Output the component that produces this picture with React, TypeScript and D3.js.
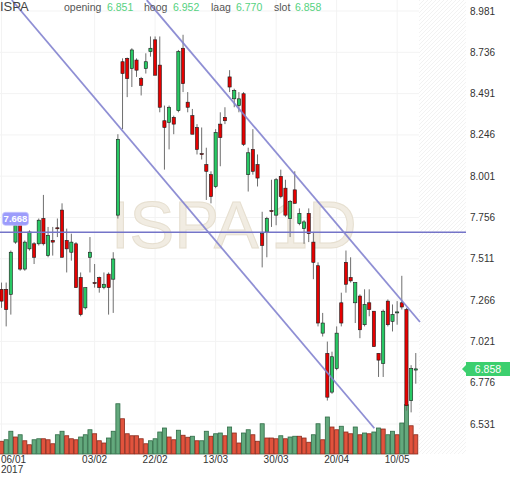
import React from "react";
import * as d3 from "d3";

// OHLC per trading day, 06/01/2017 .. 16/05/2017
const opens = [7.33, 7.33, 7.30, 7.61, 7.74, 7.45, 7.57, 7.60, 7.60, 7.75,
  7.53, 7.62, 7.695, 7.80, 7.62, 7.55, 7.60, 7.40, 7.22, 7.52,
  7.37, 7.40, 7.34, 7.42, 7.39, 7.77, 8.68, 8.70, 8.64, 8.69,
  8.58, 8.64, 8.74, 8.81, 8.66, 8.33, 8.32, 8.35, 8.39, 8.76,
  8.44, 8.36, 8.29, 8.135, 8.07, 8.01, 7.94, 8.31, 8.35, 8.59,
  8.46, 8.42, 8.49, 8.01, 8.16, 8.07, 7.66, 7.67, 7.797, 7.77,
  8.00, 7.93, 7.75, 7.92, 7.72, 7.69, 7.78, 7.61, 7.47, 7.07,
  6.95, 6.72, 6.86, 7.25, 7.49, 7.40, 7.25, 7.29, 7.12, 7.25,
  7.20, 6.95, 6.89, 7.26, 7.14, 7.19, 7.25, 7.21, 6.67, 6.851];
const highs = [7.37, 7.37, 7.56, 7.75, 7.77, 7.62, 7.68, 7.61, 7.75, 7.89,
  7.70, 7.70, 7.75, 7.84, 7.69, 7.66, 7.61, 7.43, 7.34, 7.64,
  7.48, 7.405, 7.43, 7.43, 7.55, 8.25, 8.70, 8.705, 8.76, 8.70,
  8.59, 8.73, 8.83, 8.83, 8.83, 8.42, 8.42, 8.36, 8.75, 8.84,
  8.50, 8.40, 8.31, 8.29, 8.17, 8.03, 8.28, 8.38, 8.41, 8.63,
  8.52, 8.50, 8.50, 8.17, 8.28, 8.13, 7.79, 7.76, 7.98, 7.99,
  8.04, 7.98, 7.86, 8.03, 7.81, 7.74, 7.81, 7.67, 7.49, 7.19,
  7.02, 6.96, 7.11, 7.31, 7.56, 7.52, 7.37, 7.30, 7.33, 7.33,
  7.20, 6.95, 7.21, 7.27, 7.24, 7.26, 7.41, 7.22, 6.88, 6.952];
const lows = [7.22, 7.11, 7.18, 7.60, 7.44, 7.44, 7.56, 7.48, 7.59, 7.59,
  7.52, 7.53, 7.64, 7.52, 7.43, 7.50, 7.34, 7.17, 7.21, 7.43,
  7.34, 7.31, 7.33, 7.18, 7.19, 7.75, 8.28, 8.47, 8.53, 8.59,
  8.48, 8.61, 8.71, 8.60, 8.38, 8.04, 8.16, 8.25, 8.38, 8.50,
  8.38, 8.25, 8.13, 8.10, 7.86, 7.84, 7.93, 8.06, 8.31, 8.50,
  8.41, 8.38, 8.18, 7.91, 8.01, 7.94, 7.46, 7.52, 7.70, 7.71,
  7.87, 7.76, 7.64, 7.84, 7.71, 7.60, 7.61, 7.39, 7.11, 7.05,
  6.67, 6.71, 6.85, 7.11, 7.31, 7.37, 7.13, 7.04, 7.11, 7.17,
  6.99, 6.81, 6.81, 7.11, 7.08, 7.12, 7.21, 6.61, 6.60, 6.770];
const closes = [7.26, 7.21, 7.55, 7.71, 7.45, 7.61, 7.67, 7.52, 7.74, 7.60,
  7.65, 7.61, 7.69, 7.52, 7.57, 7.61, 7.34, 7.18, 7.34, 7.55,
  7.365, 7.34, 7.36, 7.34, 7.51, 8.22, 8.61, 8.58, 8.75, 8.63,
  8.54, 8.68, 8.76, 8.60, 8.41, 8.29, 8.41, 8.31, 8.74, 8.55,
  8.41, 8.25, 8.16, 8.13, 8.03, 7.88, 8.26, 8.23, 8.33, 8.53,
  8.51, 8.46, 8.19, 8.14, 8.03, 7.99, 7.59, 7.75, 7.795, 7.98,
  7.88, 7.77, 7.85, 7.84, 7.78, 7.73, 7.66, 7.49, 7.13, 7.13,
  6.69, 6.93, 7.07, 7.13, 7.36, 7.38, 7.37, 7.09, 7.24, 7.21,
  6.99, 6.91, 7.20, 7.12, 7.18, 7.196, 7.225, 6.64, 6.86, 6.858];
const volumes = [51, 57, 91, 68, 77, 53, 37, 57, 61, 61,
  57, 41, 77, 91, 73, 61, 57, 68, 77, 97,
  81, 53, 44, 64, 91, 201, 141, 81, 73, 73,
  61, 41, 53, 61, 88, 104, 68, 57, 95, 75,
  67, 71, 53, 53, 91, 71, 81, 84, 73, 108,
  84, 44, 84, 97, 77, 51, 121, 64, 64, 61,
  73, 61, 68, 71, 71, 64, 47, 77, 121, 57,
  148, 108, 97, 111, 88, 81, 108, 77, 84, 81,
  88, 104, 100, 77, 91, 77, 124, 197, 113, 77];
const volumeDir = ("rggrgrrggr" + "rrggrrrggg" + "rrrgggrrrr" + "rrggggrrgr" + "rgrggrggrg" +
  "rrggrrgrrr" + "grggrrrggr" + "grrgrrgrgr" + "ggrggrggrr").split("");

const priceTicks = [8.981, 8.736, 8.491, 8.246, 8.001, 7.756, 7.511, 7.266, 7.021, 6.776, 6.531];
const dateTickIndex = [0, 20, 33, 46, 59, 72, 85];
const dateTickLabels = ["06/01", "03/02", "22/02", "13/03", "30/03", "20/04", "10/05"];
const headerNames = ["opening", "hoog", "laag", "slot"];
const headerValues = ["6.851", "6.952", "6.770", "6.858"];
const levelPrice = 7.668;
const lastPrice = 6.858;
// trend channel, [day index, price]
const channelUpper: [number, number][] = [[31.2, 9.046], [89.9, 7.136]];
const channelLower: [number, number][] = [[2.2, 9.046], [80.1, 6.506]];

const font = "'Liberation Sans', Arial, sans-serif";

export default function App() {
  const W = 512, H = 477;
  const plotRight = 419, axisLeft = 466, volBase = 454;

  const x = d3.scaleLinear().domain([-0.5, 89.5]).range([-0.8, 418.1]);
  const y = d3.scaleLinear().domain([6.531, 8.981]).range([424, 11]);
  const v = d3.scaleLinear().domain([0, 400]).range([volBase, volBase - 100]);
  const step = x(1) - x(0);
  const bodyW = 3.2;
  const line = d3.line<[number, number]>().x(d => x(d[0])).y(d => y(d[1]));
  const headerX = [[64, 107], [144, 173], [211, 236], [274, 295]];
  const ly = y(lastPrice);
  const lvl = y(levelPrice);

  return (
    <div style={{ position: "absolute", left: 0, top: 0 }}>
      <svg width={W} height={H} style={{ display: "block", background: "#fff", fontFamily: font }}>
        <defs>
          <pattern id="hatch" width="4" height="4" patternUnits="userSpaceOnUse">
            <path d="M-1,1 l2,-2 M0,4 l4,-4 M3,5 l2,-2" stroke="#f2f2f2" strokeWidth="1" />
          </pattern>
          <clipPath id="plot">
            <rect x={0} y={0} width={axisLeft} height={volBase} />
          </clipPath>
        </defs>

        {/* grid */}
        {priceTicks.map(t => (
          <line key={t} x1={0} x2={plotRight} y1={y(t)} y2={y(t)} stroke="#f3f3f3" />
        ))}
        {dateTickIndex.map(i => (
          <line key={i} x1={x(i)} x2={x(i)} y1={0} y2={volBase} stroke="#f3f3f3" />
        ))}
        <rect x={plotRight} y={0} width={axisLeft - plotRight} height={volBase} fill="url(#hatch)" />

        {/* watermark */}
        <g fontSize={67} fill="#f1ece2" stroke="#e6dfd0" strokeWidth={1}>
          <text x={111} y={248}>ISPA</text>
          <text x={271} y={248}>1D</text>
        </g>

        {/* volume */}
        {volumes.map((vol, i) => (
          <rect key={i} x={x(i) - step / 2 + 0.3} width={step - 0.6} y={v(vol)} height={volBase - v(vol)}
            fill={volumeDir[i] === "g" ? "#63a97d" : "#e1533d"}
            stroke={volumeDir[i] === "g" ? "#2f6b46" : "#8a2b1d"} strokeWidth={0.8} />
        ))}

        {/* candles */}
        {opens.map((o, i) => {
          const c = closes[i];
          const up = c >= o;
          const top = y(Math.max(o, c));
          const h = Math.max(1, Math.abs(y(o) - y(c)));
          return (
            <g key={i}>
              <line x1={x(i)} x2={x(i)} y1={y(highs[i])} y2={y(lows[i])} stroke="#6f6f6f" strokeWidth={1} />
              <rect x={x(i) - bodyW / 2} y={top} width={bodyW} height={h}
                fill={up ? "#28c864" : "#e60000"} stroke="#1a1a1a" strokeWidth={0.6} />
            </g>
          );
        })}

        {/* level + channel */}
        <line x1={0} x2={axisLeft} y1={lvl} y2={lvl} stroke="#7474c8" strokeWidth={1.5} />
        <g clipPath="url(#plot)" fill="none" stroke="#8383cf" strokeWidth={1.8} strokeOpacity={0.9}>
          <path d={line(channelUpper) ?? ""} />
          <path d={line(channelLower) ?? ""} />
        </g>
        <rect x={2.5} y={lvl - 20} width={26} height={13} rx={3} fill="#9c9cfb" stroke="#c4c4ff" strokeWidth={0.8} />
        <text x={15.5} y={lvl - 13.5} dy="0.35em" textAnchor="middle" fontSize={9.5} fill="#fff" fontWeight="bold">
          {levelPrice.toFixed(3)}
        </text>

        {/* header */}
        <text x={0} y={11} fontSize={13} fill="#444">ISPA</text>
        {headerNames.map((n, k) => (
          <g key={n} fontSize={10.5}>
            <text x={headerX[k][0]} y={10.5} fill="#555">{n}</text>
            <text x={headerX[k][1]} y={10.5} fill="#55d27f">{headerValues[k]}</text>
          </g>
        ))}

        {/* price axis */}
        {priceTicks.map(t => (
          <text key={t} x={470} y={y(t)} dy="0.35em" fontSize={10} fill="#333">{t.toFixed(3)}</text>
        ))}
        <path d={`M462,${ly} L466,${ly - 4} V${ly - 7} H510 V${ly + 7} H466 V${ly + 4} Z`} fill="#3ccf6e" />
        <text x={488} y={ly} dy="0.35em" textAnchor="middle" fontSize={10.5} fill="#fff">{lastPrice.toFixed(3)}</text>

        {/* date axis */}
        {dateTickIndex.map((i, k) => (
          <text key={i} x={k === 0 ? 1 : x(i)} y={463} textAnchor={k === 0 ? "start" : "middle"} fontSize={10} fill="#333">
            {dateTickLabels[k]}
          </text>
        ))}
        <text x={1} y={473} fontSize={10} fill="#333">2017</text>
      </svg>
    </div>
  );
}
